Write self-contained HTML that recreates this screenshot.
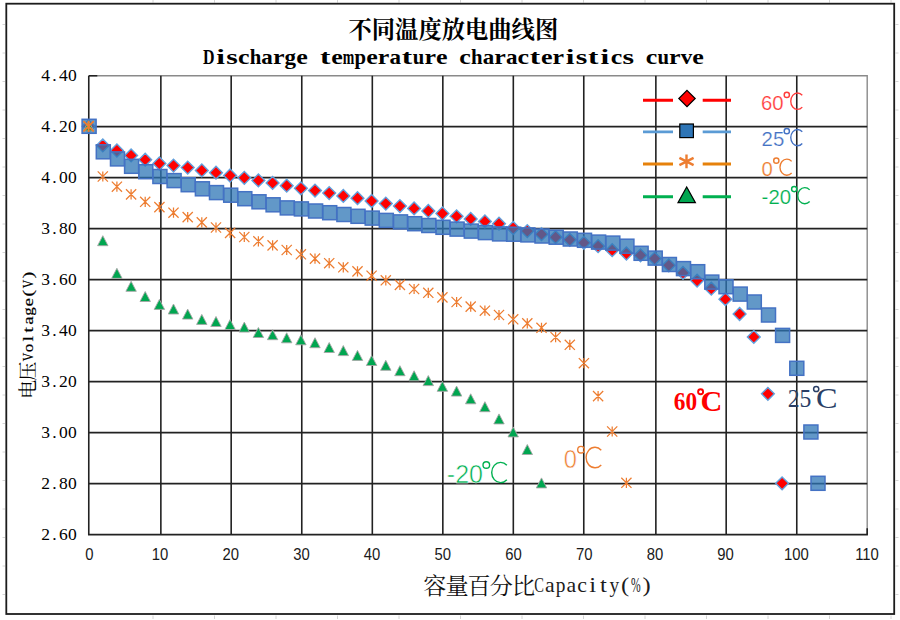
<!DOCTYPE html>
<html><head><meta charset="utf-8"><title>Discharge temperature characteristics curve</title>
<style>
html,body{margin:0;padding:0;background:#fff;}
body{width:900px;height:620px;overflow:hidden;font-family:"Liberation Sans",sans-serif;}
svg{display:block;}
</style></head><body>
<svg width="900" height="620" viewBox="0 0 900 620">
<rect x="0" y="0" width="900" height="620" fill="#fff"/>
<path d="M153.0 0V2.6M153.0 615.5V619M214.5 0V2.6M214.5 615.5V619M276.0 0V2.6M276.0 615.5V619M337.5 0V2.6M337.5 615.5V619M399.0 0V2.6M399.0 615.5V619M460.5 0V2.6M460.5 615.5V619M522.0 0V2.6M522.0 615.5V619M583.5 0V2.6M583.5 615.5V619M645.0 0V2.6M645.0 615.5V619M706.5 0V2.6M706.5 615.5V619M768.0 0V2.6M768.0 615.5V619M829.5 0V2.6M829.5 615.5V619M891.0 0V2.6M891.0 615.5V619M895.5 24.5H898.5M2.5 24.5H5M895.5 53.0H898.5M2.5 53.0H5M895.5 81.5H898.5M2.5 81.5H5M895.5 110.0H898.5M2.5 110.0H5M895.5 138.5H898.5M2.5 138.5H5M895.5 167.0H898.5M2.5 167.0H5M895.5 195.5H898.5M2.5 195.5H5M895.5 224.0H898.5M2.5 224.0H5M895.5 252.5H898.5M2.5 252.5H5M895.5 281.0H898.5M2.5 281.0H5M895.5 309.5H898.5M2.5 309.5H5M895.5 338.0H898.5M2.5 338.0H5M895.5 366.5H898.5M2.5 366.5H5M895.5 395.0H898.5M2.5 395.0H5M895.5 423.5H898.5M2.5 423.5H5M895.5 452.0H898.5M2.5 452.0H5M895.5 480.5H898.5M2.5 480.5H5M895.5 509.0H898.5M2.5 509.0H5M895.5 537.5H898.5M2.5 537.5H5M895.5 566.0H898.5M2.5 566.0H5M895.5 594.5H898.5M2.5 594.5H5" stroke="#d4d4d4" stroke-width="1" fill="none"/>
<rect x="6.3" y="3.7" width="887.9" height="610.3" fill="#fff" stroke="#1c1c1c" stroke-width="1.8"/>
<path d="M88.8 75.7H867.2V534.7" stroke="#8a8a8a" stroke-width="1.4" fill="none"/>
<path d="M88.77 75.67V535.37M160.86 75.67V535.37M231.18 75.67V535.37M301.77 75.67V535.37M372.32 75.67V535.37M442.83 75.67V535.37M513.32 75.67V535.37M583.77 75.67V535.37M655.86 75.67V535.37M726.18 75.67V535.37M796.77 75.67V535.37M88.77 126.67H867.20M88.77 177.67H867.20M88.77 228.67H867.20M88.77 279.67H867.20M88.77 330.67H867.20M88.77 381.67H867.20M88.77 432.67H867.20M88.77 483.67H867.20M87.97 534.67H867.90" stroke="#222" stroke-width="1.6" fill="none"/>
<path d="M88.8 75.7H97.3M867.2 534.7V528.2" stroke="#222" stroke-width="1.6" fill="none"/>
<path d="M88.6 119.9l6.4 6.4l-6.4 6.4l-6.4 -6.4zM102.8 139.0l6.4 6.4l-6.4 6.4l-6.4 -6.4zM116.9 144.1l6.4 6.4l-6.4 6.4l-6.4 -6.4zM131.1 149.0l6.4 6.4l-6.4 6.4l-6.4 -6.4zM145.2 153.3l6.4 6.4l-6.4 6.4l-6.4 -6.4zM159.4 157.1l6.4 6.4l-6.4 6.4l-6.4 -6.4zM173.5 159.2l6.4 6.4l-6.4 6.4l-6.4 -6.4zM187.7 161.2l6.4 6.4l-6.4 6.4l-6.4 -6.4zM201.8 164.0l6.4 6.4l-6.4 6.4l-6.4 -6.4zM216.0 166.3l6.4 6.4l-6.4 6.4l-6.4 -6.4zM230.1 169.1l6.4 6.4l-6.4 6.4l-6.4 -6.4zM244.3 171.4l6.4 6.4l-6.4 6.4l-6.4 -6.4zM258.4 174.0l6.4 6.4l-6.4 6.4l-6.4 -6.4zM272.6 176.5l6.4 6.4l-6.4 6.4l-6.4 -6.4zM286.7 179.3l6.4 6.4l-6.4 6.4l-6.4 -6.4zM300.9 181.9l6.4 6.4l-6.4 6.4l-6.4 -6.4zM315.0 184.2l6.4 6.4l-6.4 6.4l-6.4 -6.4zM329.2 186.7l6.4 6.4l-6.4 6.4l-6.4 -6.4zM343.3 189.5l6.4 6.4l-6.4 6.4l-6.4 -6.4zM357.5 191.8l6.4 6.4l-6.4 6.4l-6.4 -6.4zM371.6 194.6l6.4 6.4l-6.4 6.4l-6.4 -6.4zM385.8 197.2l6.4 6.4l-6.4 6.4l-6.4 -6.4zM399.9 199.7l6.4 6.4l-6.4 6.4l-6.4 -6.4zM414.1 202.0l6.4 6.4l-6.4 6.4l-6.4 -6.4zM428.3 204.6l6.4 6.4l-6.4 6.4l-6.4 -6.4zM442.4 207.1l6.4 6.4l-6.4 6.4l-6.4 -6.4zM456.6 209.9l6.4 6.4l-6.4 6.4l-6.4 -6.4zM470.7 212.5l6.4 6.4l-6.4 6.4l-6.4 -6.4zM484.9 215.0l6.4 6.4l-6.4 6.4l-6.4 -6.4zM499.0 217.3l6.4 6.4l-6.4 6.4l-6.4 -6.4zM513.2 221.6l6.4 6.4l-6.4 6.4l-6.4 -6.4zM527.3 224.7l6.4 6.4l-6.4 6.4l-6.4 -6.4zM541.5 227.8l6.4 6.4l-6.4 6.4l-6.4 -6.4zM555.6 230.8l6.4 6.4l-6.4 6.4l-6.4 -6.4zM569.8 233.4l6.4 6.4l-6.4 6.4l-6.4 -6.4zM583.9 236.4l6.4 6.4l-6.4 6.4l-6.4 -6.4zM598.1 239.8l6.4 6.4l-6.4 6.4l-6.4 -6.4zM612.2 243.8l6.4 6.4l-6.4 6.4l-6.4 -6.4zM626.4 247.1l6.4 6.4l-6.4 6.4l-6.4 -6.4zM640.5 248.9l6.4 6.4l-6.4 6.4l-6.4 -6.4zM654.7 252.2l6.4 6.4l-6.4 6.4l-6.4 -6.4zM668.8 258.9l6.4 6.4l-6.4 6.4l-6.4 -6.4zM683.0 266.5l6.4 6.4l-6.4 6.4l-6.4 -6.4zM697.1 274.2l6.4 6.4l-6.4 6.4l-6.4 -6.4zM711.3 282.3l6.4 6.4l-6.4 6.4l-6.4 -6.4zM725.4 292.8l6.4 6.4l-6.4 6.4l-6.4 -6.4zM739.6 307.6l6.4 6.4l-6.4 6.4l-6.4 -6.4zM753.8 330.5l6.4 6.4l-6.4 6.4l-6.4 -6.4zM767.9 387.4l6.4 6.4l-6.4 6.4l-6.4 -6.4zM782.1 476.9l6.4 6.4l-6.4 6.4l-6.4 -6.4z" fill="#ff0000" stroke="#62a0dc" stroke-width="1.4" stroke-linejoin="miter"/>
<g fill="#2e75b6" fill-opacity="0.75" stroke="#4472c4" stroke-width="1.5"><rect x="82.1" y="119.3" width="14.0" height="14.0"/><rect x="96.3" y="144.8" width="14.0" height="14.0"/><rect x="110.5" y="151.9" width="14.0" height="14.0"/><rect x="124.6" y="159.3" width="14.0" height="14.0"/><rect x="138.8" y="164.7" width="14.0" height="14.0"/><rect x="152.9" y="169.5" width="14.0" height="14.0"/><rect x="167.1" y="173.6" width="14.0" height="14.0"/><rect x="181.2" y="177.7" width="14.0" height="14.0"/><rect x="195.4" y="181.8" width="14.0" height="14.0"/><rect x="209.5" y="185.6" width="14.0" height="14.0"/><rect x="223.7" y="188.2" width="14.0" height="14.0"/><rect x="237.8" y="191.7" width="14.0" height="14.0"/><rect x="252.0" y="194.8" width="14.0" height="14.0"/><rect x="266.1" y="197.8" width="14.0" height="14.0"/><rect x="280.3" y="200.9" width="14.0" height="14.0"/><rect x="294.4" y="201.9" width="14.0" height="14.0"/><rect x="308.6" y="204.0" width="14.0" height="14.0"/><rect x="322.7" y="205.7" width="14.0" height="14.0"/><rect x="336.9" y="207.5" width="14.0" height="14.0"/><rect x="351.0" y="209.3" width="14.0" height="14.0"/><rect x="365.2" y="211.1" width="14.0" height="14.0"/><rect x="379.3" y="213.4" width="14.0" height="14.0"/><rect x="393.5" y="214.9" width="14.0" height="14.0"/><rect x="407.7" y="216.7" width="14.0" height="14.0"/><rect x="421.8" y="218.5" width="14.0" height="14.0"/><rect x="436.0" y="220.3" width="14.0" height="14.0"/><rect x="450.1" y="222.1" width="14.0" height="14.0"/><rect x="464.3" y="224.1" width="14.0" height="14.0"/><rect x="478.4" y="225.6" width="14.0" height="14.0"/><rect x="492.6" y="226.9" width="14.0" height="14.0"/><rect x="506.7" y="227.2" width="14.0" height="14.0"/><rect x="520.9" y="227.9" width="14.0" height="14.0"/><rect x="535.0" y="229.0" width="14.0" height="14.0"/><rect x="549.2" y="230.2" width="14.0" height="14.0"/><rect x="563.3" y="232.0" width="14.0" height="14.0"/><rect x="577.5" y="233.3" width="14.0" height="14.0"/><rect x="591.6" y="235.1" width="14.0" height="14.0"/><rect x="605.8" y="236.1" width="14.0" height="14.0"/><rect x="619.9" y="239.2" width="14.0" height="14.0"/><rect x="634.1" y="246.3" width="14.0" height="14.0"/><rect x="648.2" y="251.1" width="14.0" height="14.0"/><rect x="662.4" y="257.5" width="14.0" height="14.0"/><rect x="676.5" y="261.6" width="14.0" height="14.0"/><rect x="690.7" y="264.7" width="14.0" height="14.0"/><rect x="704.8" y="275.1" width="14.0" height="14.0"/><rect x="719.0" y="279.7" width="14.0" height="14.0"/><rect x="733.2" y="287.1" width="14.0" height="14.0"/><rect x="747.3" y="295.0" width="14.0" height="14.0"/><rect x="761.5" y="308.0" width="14.0" height="14.0"/><rect x="775.6" y="328.4" width="14.0" height="14.0"/><rect x="789.8" y="361.3" width="14.0" height="14.0"/><rect x="803.9" y="425.0" width="14.0" height="14.0"/><rect x="811.0" y="476.3" width="14.0" height="14.0"/></g>
<path d="M88.6 120.9l5.2 10h-10.4zM102.8 235.7l5.2 10h-10.4zM116.9 268.3l5.2 10h-10.4zM131.1 281.3l5.2 10h-10.4zM145.2 291.5l5.2 10h-10.4zM159.4 299.4l5.2 10h-10.4zM173.5 304.0l5.2 10h-10.4zM187.7 309.1l5.2 10h-10.4zM201.8 314.4l5.2 10h-10.4zM216.0 316.5l5.2 10h-10.4zM230.1 319.5l5.2 10h-10.4zM244.3 322.1l5.2 10h-10.4zM258.4 327.5l5.2 10h-10.4zM272.6 329.7l5.2 10h-10.4zM286.7 332.8l5.2 10h-10.4zM300.9 334.8l5.2 10h-10.4zM315.0 337.7l5.2 10h-10.4zM329.2 342.5l5.2 10h-10.4zM343.3 345.6l5.2 10h-10.4zM357.5 350.4l5.2 10h-10.4zM371.6 355.5l5.2 10h-10.4zM385.8 360.3l5.2 10h-10.4zM399.9 365.7l5.2 10h-10.4zM414.1 370.8l5.2 10h-10.4zM428.3 375.6l5.2 10h-10.4zM442.4 381.3l5.2 10h-10.4zM456.6 386.1l5.2 10h-10.4zM470.7 393.8l5.2 10h-10.4zM484.9 401.7l5.2 10h-10.4zM499.0 413.9l5.2 10h-10.4zM513.2 426.9l5.2 10h-10.4zM527.3 444.5l5.2 10h-10.4zM541.5 477.9l5.2 10h-10.4z" fill="#00a650" stroke="#a6a6a6" stroke-width="0.9"/>
<path d="M83.5 121.2l10.2 10.2M93.7 121.2l-10.2 10.2M88.6 121.2v10.2M97.7 171.4l10.2 10.2M107.9 171.4l-10.2 10.2M102.8 171.4v10.2M111.8 181.6l10.2 10.2M122.0 181.6l-10.2 10.2M116.9 181.6v10.2M126.0 189.3l10.2 10.2M136.2 189.3l-10.2 10.2M131.1 189.3v10.2M140.1 196.7l10.2 10.2M150.3 196.7l-10.2 10.2M145.2 196.7v10.2M154.3 202.0l10.2 10.2M164.5 202.0l-10.2 10.2M159.4 202.0v10.2M168.4 207.6l10.2 10.2M178.6 207.6l-10.2 10.2M173.5 207.6v10.2M182.6 212.0l10.2 10.2M192.8 212.0l-10.2 10.2M187.7 212.0v10.2M196.7 217.3l10.2 10.2M206.9 217.3l-10.2 10.2M201.8 217.3v10.2M210.9 222.4l10.2 10.2M221.1 222.4l-10.2 10.2M216.0 222.4v10.2M225.0 227.8l10.2 10.2M235.2 227.8l-10.2 10.2M230.1 227.8v10.2M239.2 231.9l10.2 10.2M249.4 231.9l-10.2 10.2M244.3 231.9v10.2M253.3 236.2l10.2 10.2M263.5 236.2l-10.2 10.2M258.4 236.2v10.2M267.5 240.3l10.2 10.2M277.7 240.3l-10.2 10.2M272.6 240.3v10.2M281.6 244.9l10.2 10.2M291.8 244.9l-10.2 10.2M286.7 244.9v10.2M295.8 249.2l10.2 10.2M306.0 249.2l-10.2 10.2M300.9 249.2v10.2M309.9 253.5l10.2 10.2M320.1 253.5l-10.2 10.2M315.0 253.5v10.2M324.1 258.1l10.2 10.2M334.3 258.1l-10.2 10.2M329.2 258.1v10.2M338.2 262.2l10.2 10.2M348.4 262.2l-10.2 10.2M343.3 262.2v10.2M352.4 266.3l10.2 10.2M362.6 266.3l-10.2 10.2M357.5 266.3v10.2M366.5 270.6l10.2 10.2M376.7 270.6l-10.2 10.2M371.6 270.6v10.2M380.7 275.2l10.2 10.2M390.9 275.2l-10.2 10.2M385.8 275.2v10.2M394.8 279.8l10.2 10.2M405.0 279.8l-10.2 10.2M399.9 279.8v10.2M409.0 283.9l10.2 10.2M419.2 283.9l-10.2 10.2M414.1 283.9v10.2M423.2 287.7l10.2 10.2M433.4 287.7l-10.2 10.2M428.3 287.7v10.2M437.3 292.3l10.2 10.2M447.5 292.3l-10.2 10.2M442.4 292.3v10.2M451.5 296.9l10.2 10.2M461.7 296.9l-10.2 10.2M456.6 296.9v10.2M465.6 301.5l10.2 10.2M475.8 301.5l-10.2 10.2M470.7 301.5v10.2M479.8 305.6l10.2 10.2M490.0 305.6l-10.2 10.2M484.9 305.6v10.2M493.9 309.9l10.2 10.2M504.1 309.9l-10.2 10.2M499.0 309.9v10.2M508.1 314.2l10.2 10.2M518.3 314.2l-10.2 10.2M513.2 314.2v10.2M522.2 318.3l10.2 10.2M532.4 318.3l-10.2 10.2M527.3 318.3v10.2M536.4 322.7l10.2 10.2M546.6 322.7l-10.2 10.2M541.5 322.7v10.2M550.5 332.1l10.2 10.2M560.7 332.1l-10.2 10.2M555.6 332.1v10.2M564.7 339.7l10.2 10.2M574.9 339.7l-10.2 10.2M569.8 339.7v10.2M578.8 358.1l10.2 10.2M589.0 358.1l-10.2 10.2M583.9 358.1v10.2M593.0 391.0l10.2 10.2M603.2 391.0l-10.2 10.2M598.1 391.0v10.2M607.1 426.4l10.2 10.2M617.3 426.4l-10.2 10.2M612.2 426.4v10.2M621.3 477.7l10.2 10.2M631.5 477.7l-10.2 10.2M626.4 477.7v10.2" fill="none" stroke="#ed7d31" stroke-width="1.25"/>
<path d="M83.5 121.2l10.2 10.2M93.7 121.2l-10.2 10.2M88.6 120.7v11.2" fill="none" stroke="#ed7d31" stroke-width="1.7"/>
<text x="348.5 371.8 395.1 418.4 441.7 465.0 488.3 511.6 534.9" y="37.6" font-family="'Liberation Serif', 'Noto Serif CJK SC', serif" font-size="23.3px" font-weight="bold" fill="#000">不同温度放电曲线图</text>
<g font-family="'Liberation Serif', serif" font-size="22.0px" fill="#000" font-weight="bold"><text transform="translate(208.82 63.70) scale(0.726 1)" text-anchor="middle">D</text><text transform="translate(220.47 63.70) scale(1.420 1)" text-anchor="middle">i</text><text transform="translate(232.12 63.70) scale(1.347 1)" text-anchor="middle">s</text><text transform="translate(243.78 63.70) scale(1.181 1)" text-anchor="middle">c</text><text transform="translate(255.43 63.70) scale(0.943 1)" text-anchor="middle">h</text><text transform="translate(267.07 63.70) scale(1.048 1)" text-anchor="middle">a</text><text transform="translate(278.73 63.70) scale(1.181 1)" text-anchor="middle">r</text><text transform="translate(290.38 63.70) scale(1.048 1)" text-anchor="middle">g</text><text transform="translate(302.02 63.70) scale(1.181 1)" text-anchor="middle">e</text><text transform="translate(325.32 63.70) scale(1.420 1)" text-anchor="middle">t</text><text transform="translate(336.98 63.70) scale(1.181 1)" text-anchor="middle">e</text><text transform="translate(348.62 63.70) scale(0.629 1)" text-anchor="middle">m</text><text transform="translate(360.27 63.70) scale(0.943 1)" text-anchor="middle">p</text><text transform="translate(371.93 63.70) scale(1.181 1)" text-anchor="middle">e</text><text transform="translate(383.58 63.70) scale(1.181 1)" text-anchor="middle">r</text><text transform="translate(395.23 63.70) scale(1.048 1)" text-anchor="middle">a</text><text transform="translate(406.88 63.70) scale(1.420 1)" text-anchor="middle">t</text><text transform="translate(418.52 63.70) scale(0.943 1)" text-anchor="middle">u</text><text transform="translate(430.18 63.70) scale(1.181 1)" text-anchor="middle">r</text><text transform="translate(441.83 63.70) scale(1.181 1)" text-anchor="middle">e</text><text transform="translate(465.12 63.70) scale(1.181 1)" text-anchor="middle">c</text><text transform="translate(476.78 63.70) scale(0.943 1)" text-anchor="middle">h</text><text transform="translate(488.43 63.70) scale(1.048 1)" text-anchor="middle">a</text><text transform="translate(500.07 63.70) scale(1.181 1)" text-anchor="middle">r</text><text transform="translate(511.73 63.70) scale(1.048 1)" text-anchor="middle">a</text><text transform="translate(523.38 63.70) scale(1.181 1)" text-anchor="middle">c</text><text transform="translate(535.03 63.70) scale(1.420 1)" text-anchor="middle">t</text><text transform="translate(546.67 63.70) scale(1.181 1)" text-anchor="middle">e</text><text transform="translate(558.33 63.70) scale(1.181 1)" text-anchor="middle">r</text><text transform="translate(569.98 63.70) scale(1.420 1)" text-anchor="middle">i</text><text transform="translate(581.62 63.70) scale(1.347 1)" text-anchor="middle">s</text><text transform="translate(593.28 63.70) scale(1.420 1)" text-anchor="middle">t</text><text transform="translate(604.92 63.70) scale(1.420 1)" text-anchor="middle">i</text><text transform="translate(616.58 63.70) scale(1.181 1)" text-anchor="middle">c</text><text transform="translate(628.23 63.70) scale(1.347 1)" text-anchor="middle">s</text><text transform="translate(651.53 63.70) scale(1.181 1)" text-anchor="middle">c</text><text transform="translate(663.17 63.70) scale(0.943 1)" text-anchor="middle">u</text><text transform="translate(674.83 63.70) scale(1.181 1)" text-anchor="middle">r</text><text transform="translate(686.48 63.70) scale(1.048 1)" text-anchor="middle">v</text><text transform="translate(698.12 63.70) scale(1.181 1)" text-anchor="middle">e</text></g>
<text x="45.6 54.5 63.4 72.3" y="80.9" text-anchor="middle" font-family="'Liberation Serif', serif" font-size="17.5px" fill="#000">4.40</text>
<text x="45.6 54.5 63.4 72.3" y="131.9" text-anchor="middle" font-family="'Liberation Serif', serif" font-size="17.5px" fill="#000">4.20</text>
<text x="45.6 54.5 63.4 72.3" y="182.9" text-anchor="middle" font-family="'Liberation Serif', serif" font-size="17.5px" fill="#000">4.00</text>
<text x="45.6 54.5 63.4 72.3" y="233.9" text-anchor="middle" font-family="'Liberation Serif', serif" font-size="17.5px" fill="#000">3.80</text>
<text x="45.6 54.5 63.4 72.3" y="284.9" text-anchor="middle" font-family="'Liberation Serif', serif" font-size="17.5px" fill="#000">3.60</text>
<text x="45.6 54.5 63.4 72.3" y="335.9" text-anchor="middle" font-family="'Liberation Serif', serif" font-size="17.5px" fill="#000">3.40</text>
<text x="45.6 54.5 63.4 72.3" y="386.9" text-anchor="middle" font-family="'Liberation Serif', serif" font-size="17.5px" fill="#000">3.20</text>
<text x="45.6 54.5 63.4 72.3" y="437.9" text-anchor="middle" font-family="'Liberation Serif', serif" font-size="17.5px" fill="#000">3.00</text>
<text x="45.6 54.5 63.4 72.3" y="488.9" text-anchor="middle" font-family="'Liberation Serif', serif" font-size="17.5px" fill="#000">2.80</text>
<text x="45.6 54.5 63.4 72.3" y="539.9" text-anchor="middle" font-family="'Liberation Serif', serif" font-size="17.5px" fill="#000">2.60</text>
<text transform="translate(89.3 559.5) scale(0.9 1)" text-anchor="middle" font-family="'Liberation Sans', sans-serif" font-size="16.5px" fill="#1a1a1a">0</text>
<text transform="translate(160.0 559.5) scale(0.9 1)" text-anchor="middle" font-family="'Liberation Sans', sans-serif" font-size="16.5px" fill="#1a1a1a">10</text>
<text transform="translate(230.7 559.5) scale(0.9 1)" text-anchor="middle" font-family="'Liberation Sans', sans-serif" font-size="16.5px" fill="#1a1a1a">20</text>
<text transform="translate(301.4 559.5) scale(0.9 1)" text-anchor="middle" font-family="'Liberation Sans', sans-serif" font-size="16.5px" fill="#1a1a1a">30</text>
<text transform="translate(372.1 559.5) scale(0.9 1)" text-anchor="middle" font-family="'Liberation Sans', sans-serif" font-size="16.5px" fill="#1a1a1a">40</text>
<text transform="translate(442.8 559.5) scale(0.9 1)" text-anchor="middle" font-family="'Liberation Sans', sans-serif" font-size="16.5px" fill="#1a1a1a">50</text>
<text transform="translate(513.5 559.5) scale(0.9 1)" text-anchor="middle" font-family="'Liberation Sans', sans-serif" font-size="16.5px" fill="#1a1a1a">60</text>
<text transform="translate(584.2 559.5) scale(0.9 1)" text-anchor="middle" font-family="'Liberation Sans', sans-serif" font-size="16.5px" fill="#1a1a1a">70</text>
<text transform="translate(654.9 559.5) scale(0.9 1)" text-anchor="middle" font-family="'Liberation Sans', sans-serif" font-size="16.5px" fill="#1a1a1a">80</text>
<text transform="translate(725.6 559.5) scale(0.9 1)" text-anchor="middle" font-family="'Liberation Sans', sans-serif" font-size="16.5px" fill="#1a1a1a">90</text>
<text transform="translate(796.3 559.5) scale(0.9 1)" text-anchor="middle" font-family="'Liberation Sans', sans-serif" font-size="16.5px" fill="#1a1a1a">100</text>
<text transform="translate(867.0 559.5) scale(0.9 1)" text-anchor="middle" font-family="'Liberation Sans', sans-serif" font-size="16.5px" fill="#1a1a1a">110</text>
<text x="423.2 445.4 467.6 489.8 512.0" y="594" font-family="'Liberation Serif', 'Noto Serif CJK SC', serif" font-size="23.1px" fill="#111">容量百分比</text>
<g font-family="'Liberation Serif', serif" font-size="22.0px" fill="#1c1c1c"><text transform="translate(538.98 592.00) scale(0.659 1)" text-anchor="middle">C</text><text transform="translate(549.73 592.00) scale(0.991 1)" text-anchor="middle">a</text><text transform="translate(560.48 592.00) scale(0.880 1)" text-anchor="middle">p</text><text transform="translate(571.23 592.00) scale(0.991 1)" text-anchor="middle">a</text><text transform="translate(581.98 592.00) scale(0.991 1)" text-anchor="middle">c</text><text transform="translate(592.73 592.00) scale(1.120 1)" text-anchor="middle">i</text><text transform="translate(603.48 592.00) scale(1.120 1)" text-anchor="middle">t</text><text transform="translate(614.23 592.00) scale(0.880 1)" text-anchor="middle">y</text><text transform="translate(624.98 592.00) scale(1.120 1)" text-anchor="middle">(</text><text transform="translate(635.73 592.00) scale(0.528 1)" text-anchor="middle">%</text><text transform="translate(646.48 592.00) scale(1.120 1)" text-anchor="middle">)</text></g>
<g transform="translate(34.3 398.6) rotate(-90)">
<text x="-0.4 17.6" y="0.4" font-family="'Liberation Serif', 'Noto Serif CJK SC', serif" font-size="19.4px" fill="#000">电压</text>
<g font-family="'Liberation Serif', serif" font-size="14.8px" fill="#000"><text transform="translate(41.56 -1.40) scale(0.794 1)" text-anchor="middle" stroke="#000" stroke-width="0.18">V</text><text transform="translate(50.68 -1.40) scale(1.146 1)" text-anchor="middle" stroke="#000" stroke-width="0.18">o</text><text transform="translate(59.80 -1.40) scale(1.320 1)" text-anchor="middle" stroke="#000" stroke-width="0.18">l</text><text transform="translate(68.92 -1.40) scale(1.320 1)" text-anchor="middle" stroke="#000" stroke-width="0.18">t</text><text transform="translate(78.04 -1.40) scale(1.291 1)" text-anchor="middle" stroke="#000" stroke-width="0.18">a</text><text transform="translate(87.16 -1.40) scale(1.146 1)" text-anchor="middle" stroke="#000" stroke-width="0.18">g</text><text transform="translate(96.28 -1.40) scale(1.291 1)" text-anchor="middle" stroke="#000" stroke-width="0.18">e</text><text transform="translate(105.40 -1.40) scale(1.320 1)" text-anchor="middle" stroke="#000" stroke-width="0.18">(</text><text transform="translate(114.52 -1.40) scale(0.794 1)" text-anchor="middle" stroke="#000" stroke-width="0.18">V</text><text transform="translate(123.64 -1.40) scale(1.320 1)" text-anchor="middle" stroke="#000" stroke-width="0.18">)</text></g>
</g>
<path d="M643 100.3H673M702.7 100.3H731" stroke="#ff0000" stroke-width="2.9" fill="none"/>
<path d="M687 90.3l8.2 8.2l-8.2 8.2l-8.2 -8.2z" fill="#ff0000" stroke="#000" stroke-width="1.2"/>
<path d="M643 131.9H673M702.7 131.9H731" stroke="#5b9bd5" stroke-width="2.9" fill="none"/>
<rect x="679.8" y="124" width="13.6" height="13.6" fill="#2e75b6" stroke="#000" stroke-width="1.2"/>
<path d="M643 164.0H673M702.7 164.0H731" stroke="#e6810b" stroke-width="2.9" fill="none"/>
<path d="M686.5 154.6v13.6M679.4 157.9l14.2 7.2M693.6 157.9l-14.2 7.2" stroke="#ed7d31" stroke-width="2.4" fill="none"/>
<path d="M643 196.7H673M702.7 196.7H731" stroke="#00b050" stroke-width="2.9" fill="none"/>
<path d="M686.7 187l8.7 15.6h-17.4z" fill="#00a650" stroke="#000" stroke-width="1.2"/>
<text transform="translate(761.0 109.7) scale(1.040 1)" font-family="'Liberation Sans', sans-serif" font-size="19.6px" fill="#ff3b3b" stroke="#fff" stroke-width="0.22">60</text>
<circle cx="786.8" cy="94.9" r="2.60" fill="none" stroke="#ff3b3b" stroke-width="1.45"/>
<path d="M802.26 95.28A6.78 8.23 0 1 0 802.26 107.12" fill="none" stroke="#ff3b3b" stroke-width="1.35"/>
<text transform="translate(761.6 145.9) scale(1.040 1)" font-family="'Liberation Sans', sans-serif" font-size="19.6px" fill="#4472c4" stroke="#fff" stroke-width="0.22">25</text>
<circle cx="786.8" cy="131.2" r="2.60" fill="none" stroke="#4472c4" stroke-width="1.45"/>
<path d="M802.26 131.76A6.78 8.12 0 1 0 802.26 143.44" fill="none" stroke="#4472c4" stroke-width="1.35"/>
<text transform="translate(761.4 175.8) scale(1.040 1)" font-family="'Liberation Sans', sans-serif" font-size="19.6px" fill="#ed7d31" stroke="#fff" stroke-width="0.22">0</text>
<circle cx="776.3" cy="160.7" r="2.60" fill="none" stroke="#ed7d31" stroke-width="1.45"/>
<path d="M791.66 161.34A6.90 8.07 0 1 0 791.66 172.96" fill="none" stroke="#ed7d31" stroke-width="1.35"/>
<text transform="translate(761.6 204.4) scale(1.040 1)" font-family="'Liberation Sans', sans-serif" font-size="19.6px" fill="#00b050" stroke="#fff" stroke-width="0.22">-20</text>
<circle cx="794.2" cy="189.1" r="2.60" fill="none" stroke="#00b050" stroke-width="1.45"/>
<path d="M809.66 189.84A7.01 8.07 0 1 0 809.66 201.46" fill="none" stroke="#00b050" stroke-width="1.35"/>
<text transform="translate(446.8 483.2) scale(0.990 1)" font-family="'Liberation Sans', sans-serif" font-size="25.3px" fill="#00b050" stroke="#fff" stroke-width="0.55">-20</text>
<circle cx="486.3" cy="465.0" r="3.30" fill="none" stroke="#00b050" stroke-width="1.40"/>
<path d="M506.85 465.23A8.94 10.10 0 1 0 506.85 479.77" fill="none" stroke="#00b050" stroke-width="1.40"/>
<text transform="translate(563.8 468.4) scale(0.950 1)" font-family="'Liberation Sans', sans-serif" font-size="25.0px" fill="#ed7d31" stroke="#fff" stroke-width="0.55">0</text>
<circle cx="581.0" cy="449.7" r="3.30" fill="none" stroke="#ed7d31" stroke-width="1.40"/>
<path d="M601.25 450.18A8.94 10.25 0 1 0 601.25 464.92" fill="none" stroke="#ed7d31" stroke-width="1.40"/>
<text x="673.8" y="410.4" font-family="'Liberation Serif', serif" font-weight="bold" font-size="25.3px" fill="#ff0000" textLength="23.3" lengthAdjust="spacingAndGlyphs">60</text>
<circle cx="700.6" cy="391.8" r="2.50" fill="none" stroke="#ff0000" stroke-width="1.90"/>
<text transform="translate(700.49 411.24) scale(0.998 1)" font-family="'Liberation Serif', serif" font-size="30.3px" font-weight="bold" fill="#ff0000">C</text>
<text x="787.8" y="407.0" font-family="'Liberation Serif', serif" font-size="24.2px" fill="#2a3f66" textLength="23.6" lengthAdjust="spacingAndGlyphs">25</text>
<circle cx="816.2" cy="389.0" r="2.60" fill="none" stroke="#2a3f66" stroke-width="1.50"/>
<text transform="translate(816.03 408.24) scale(1.075 1)" font-family="'Liberation Serif', serif" font-size="30.0px"  fill="#2a3f66">C</text>
</svg>
</body></html>
